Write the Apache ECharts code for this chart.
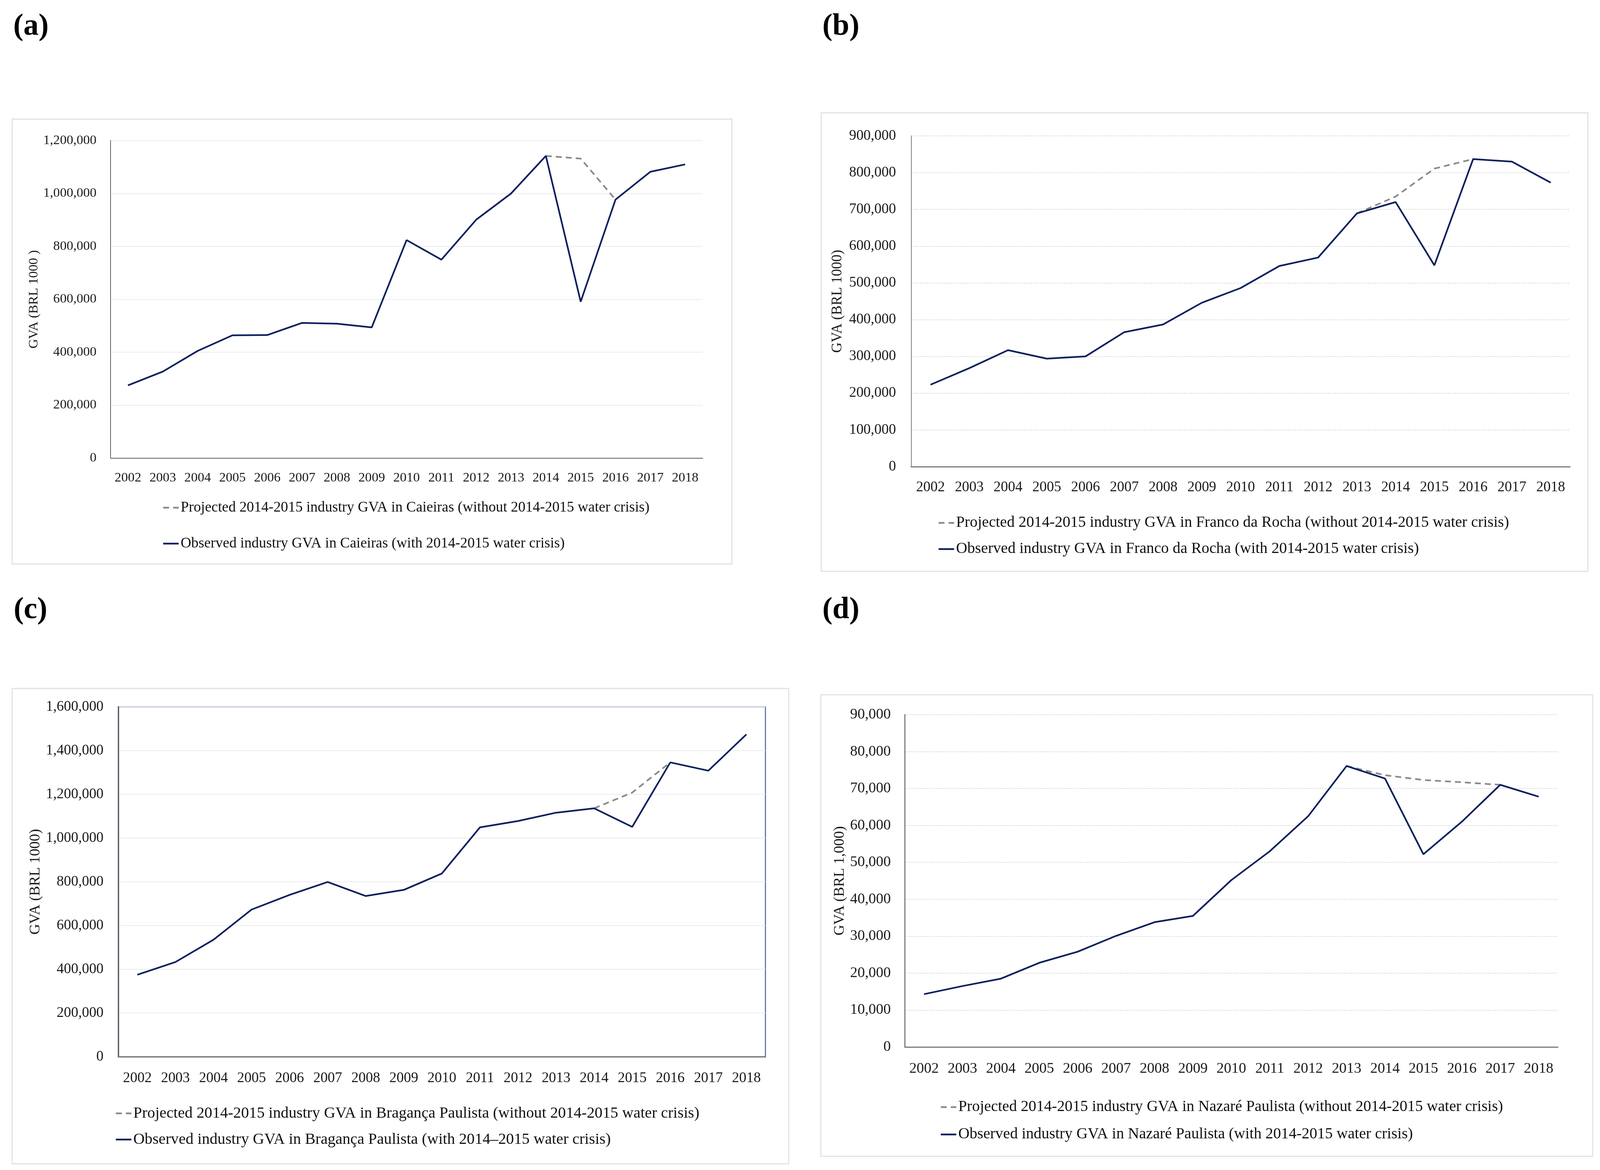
<!DOCTYPE html>
<html>
<head>
<meta charset="utf-8">
<script src="https://cdn.jsdelivr.net/npm/echarts@6/dist/echarts.min.js"></script>
<style>
html,body{margin:0;padding:0;background:#fff;overflow:hidden;}
#chart{width:100vw;height:100vh;}
</style>
</head>
<body>
<div id="chart"></div>
<script>
const years = ['2002','2003','2004','2005','2006','2007','2008','2009','2010','2011','2012','2013','2014','2015','2016','2017','2018'];

const caieirasObserved = [275000,327000,405000,464000,465000,511000,508000,494000,824000,750000,901000,1000000,1142000,591000,977000,1082000,1110000];
const caieirasProjected = [null,null,null,null,null,null,null,null,null,null,null,null,1142000,1132000,977000,null,null];

const francoObserved = [223000,268000,317000,294000,300000,366000,387000,446000,486000,546000,569000,689000,720000,548000,837000,830000,773000];
const francoProjected = [null,null,null,null,null,null,null,null,null,null,null,689000,735000,811000,837000,null,null];

const bragancaObserved = [375000,433000,535000,673000,740000,799000,735000,763000,838000,1049000,1078000,1116000,1136000,1051000,1346000,1308000,1474000];
const bragancaProjected = [null,null,null,null,null,null,null,null,null,null,null,null,1136000,1208000,1346000,null,null];

const nazareObserved = [14300,16500,18500,22800,25800,30100,33800,35500,45200,53000,62500,76100,72700,52200,61000,71000,67800];
const nazareProjected = [null,null,null,null,null,null,null,null,null,null,null,76100,73600,72300,71700,71000,null];

const panelLetters = ['(a)','(b)','(c)','(d)'];
const yNames = ['GVA (BRL 1000 )','GVA (BRL 1000)','GVA (BRL 1000)','GVA (BRL 1,000)'];
const yMaxes = [1200000,900000,1600000,90000];
const yIntervals = [200000,100000,200000,10000];
const projectedNames = [
  'Projected 2014-2015 industry GVA in Caieiras (without 2014-2015 water crisis)',
  'Projected 2014-2015 industry GVA in Franco da Rocha (without 2014-2015 water crisis)',
  'Projected 2014-2015 industry GVA in Bragança Paulista (without 2014-2015 water crisis)',
  'Projected 2014-2015 industry GVA in Nazaré Paulista (without 2014-2015 water crisis)'
];
const observedNames = [
  'Observed industry GVA in Caieiras (with 2014-2015 water crisis)',
  'Observed industry GVA in Franco da Rocha (with 2014-2015 water crisis)',
  'Observed industry GVA in Bragança Paulista (with 2014\u20132015 water crisis)',
  'Observed industry GVA in Nazaré Paulista (with 2014-2015 water crisis)'
];
const observedSets = [caieirasObserved, francoObserved, bragancaObserved, nazareObserved];
const projectedSets = [caieirasProjected, francoProjected, bragancaProjected, nazareProjected];

// layout in design pixels (4327 x 2996), scaled to the actual viewport
const FONT = 'Liberation Serif';
const layout = [
  {grid:{left:299,top:360,width:1601,height:813}, box:[33,305,1946,1139], letter:[36,30],
   fs:36, nameFs:36, nameGap:189, xMargin:34, yMargin:38, grid_type:'solid',
   yLine:{color:'#595959',width:2}, xLine:{color:'#8c8c8c',width:3},
   legend:{left:439,top:1278,gap:48,fs:39.5}},
  {grid:{left:2464,top:348,width:1782,height:847}, box:[2221,289,2073,1174], letter:[2224,30],
   fs:39, nameFs:39, nameGap:179, xMargin:35, yMargin:41, grid_type:'dotted',
   yLine:{color:'#7a7a7a',width:2}, xLine:{color:'#7a7a7a',width:3},
   legend:{left:2536,top:1317,gap:23,fs:42}},
  {grid:{left:320,top:1810,width:1750,height:896}, box:[33,1763,2100,1217], letter:[37,1524],
   fs:39, nameFs:40, nameGap:204, xMargin:37, yMargin:40, grid_type:'solid',
   yLine:{color:'#595959',width:3}, xLine:{color:'#7a7a7a',width:3}, border:true,
   legend:{left:311,top:2829,gap:23,fs:42.5}},
  {grid:{left:2447,top:1830,width:1766,height:851}, box:[2220,1779,2087,1182], letter:[2224,1524],
   fs:40, nameFs:40, nameGap:156, xMargin:37, yMargin:38, grid_type:'dotted',
   yLine:{color:'#7a7a7a',width:3}, xLine:{color:'#7a7a7a',width:3},
   legend:{left:2542,top:2813,gap:26,fs:42}}
];

const el = document.getElementById('chart');
const VW = el.clientWidth || window.innerWidth || 4327;
const VH = el.clientHeight || window.innerHeight || 2996;
const sx = VW / 4327, sy = VH / 2996;
const X = v => v * sx, Y = v => v * sy, F = v => v * Math.min(sx, sy);

const fmt = v => Number(v).toLocaleString('en-US');

const option = {
  animation:false,
  backgroundColor:'#ffffff',
  title:[], grid:[], xAxis:[], yAxis:[], legend:[], series:[], graphic:[]
};

layout.forEach((L,i)=>{
  option.graphic.push({type:'rect', silent:true, z:-10,
    shape:{x:X(L.box[0]),y:Y(L.box[1]),width:X(L.box[2]),height:Y(L.box[3])},
    style:{fill:'#ffffff',stroke:'#e2e2e2',lineWidth:F(3)}});
  option.title.push({text:panelLetters[i], left:X(L.letter[0]), top:Y(L.letter[1]), padding:0,
    textStyle:{fontFamily:FONT,fontWeight:'bold',fontSize:F(82),lineHeight:F(82),color:'#000'}});
  option.grid.push({containLabel:false, show:!!L.border,
    borderColor:'#5b74ab', borderWidth:F(3), backgroundColor:'transparent',
    left:X(L.grid.left), top:Y(L.grid.top), width:X(L.grid.width), height:Y(L.grid.height)});
  option.xAxis.push({type:'category', gridIndex:i, data:years, boundaryGap:true,
    axisLine:{show:true,lineStyle:{color:L.xLine.color,width:F(L.xLine.width)}}, axisTick:{show:false},
    axisLabel:{interval:0,margin:Y(L.xMargin),fontFamily:FONT,fontSize:F(L.fs),lineHeight:F(L.fs),color:'#1a1a1a'},
    splitLine:{show:false}});
  option.yAxis.push({type:'value', gridIndex:i, min:0, max:yMaxes[i], interval:yIntervals[i],
    name:yNames[i], nameLocation:'middle', nameGap:X(L.nameGap),
    nameTextStyle:{fontFamily:FONT,fontSize:F(L.nameFs),color:'#1a1a1a'},
    axisLine:{show:true,lineStyle:{color:L.yLine.color,width:F(L.yLine.width)}}, axisTick:{show:false},
    axisLabel:{margin:X(L.yMargin),fontFamily:FONT,fontSize:F(L.fs),color:'#1a1a1a',formatter:fmt},
    splitLine:{show:true,lineStyle:{color: L.grid_type==='solid' ? '#ececec' : '#d4d4d4',
      width:F(2), type: L.grid_type==='solid' ? 'solid' : [F(3),F(3)]}}});
  option.legend.push({orient:'vertical', left:X(L.legend.left), top:Y(L.legend.top), itemGap:Y(L.legend.gap),
    itemWidth:X(42), itemHeight:Y(14), padding:0, selectedMode:false,
    itemStyle:{opacity:0},
    lineStyle:{width:F(4.5)},
    data:[projectedNames[i], observedNames[i]],
    textStyle:{fontFamily:FONT,fontSize:F(L.legend.fs),lineHeight:Y(44),color:'#111'}});
  option.series.push({type:'line', name:projectedNames[i], xAxisIndex:i, yAxisIndex:i,
    data:projectedSets[i], symbol:'none', showSymbol:false, connectNulls:false, z:2,
    lineStyle:{color:'#8a8a8a',width:F(4.5),type:[F(16),F(11)]}, itemStyle:{color:'#8a8a8a'}});
  option.series.push({type:'line', name:observedNames[i], xAxisIndex:i, yAxisIndex:i,
    data:observedSets[i], symbol:'none', showSymbol:false, z:3,
    lineStyle:{color:'#0b1f5e',width:F(4.5)}, itemStyle:{color:'#0b1f5e'}});
});

const chart = echarts.init(el, null, {renderer:'canvas', width:VW, height:VH});
chart.setOption(option);
</script>
</body>
</html>
